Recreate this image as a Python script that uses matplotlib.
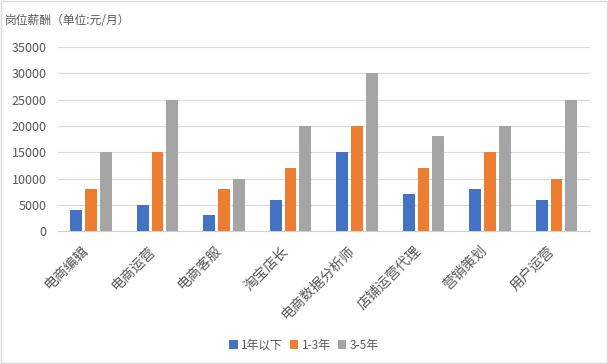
import numpy as np
import matplotlib.pyplot as plt
import matplotlib.transforms as mtransforms

plt.rcParams['font.family'] = ['Noto Sans CJK SC', 'DejaVu Sans']

categories = ["电商编辑", "电商运营", "电商客服", "淘宝店长", "电商数据分析师", "店铺运营代理", "营销策划", "用户运营"]
series_names = ["1年以下", "1-3年", "3-5年"]
under_1 = [4000, 5000, 3000, 6000, 15000, 7000, 8000, 6000]
y1_3 = [8000, 15000, 8000, 12000, 20000, 12000, 15000, 10000]
y3_5 = [15000, 25000, 10000, 20000, 30000, 18000, 20000, 25000]
colors = ["#4472C4", "#ED7D31", "#A5A5A5"]
text_color = "#595959"

fig = plt.figure(figsize=(6.08, 3.64), dpi=100)
ax = fig.add_axes([0.095, 0.365, 0.875, 0.506])

x = np.arange(len(categories))
w = 0.18
for i, (vals, name) in enumerate(zip([under_1, y1_3, y3_5], series_names)):
    ax.bar(x + (i - 1) * 0.225, vals, width=w, color=colors[i], label=name, zorder=3)

ax.set_xlim(-0.5, len(categories) - 0.5)
ax.set_ylim(0, 35000)
ax.set_yticks(range(0, 35001, 5000))
ax.grid(axis='y', color="#D9D9D9", linewidth=0.8, zorder=0)
for s in ["top", "right", "left"]:
    ax.spines[s].set_visible(False)
ax.spines["bottom"].set_color("#D0D0D0")
ax.tick_params(axis='both', length=0, colors=text_color, labelsize=9)
ax.tick_params(axis='y', pad=8)
ax.tick_params(axis='x', pad=9)
ax.set_xticks(x)
ax.set_xticklabels(categories, rotation=45, ha='right', rotation_mode='anchor', fontsize=10)
# nudge labels a bit left like the original
offset = mtransforms.ScaledTranslation(-7 / 72, 0, fig.dpi_scale_trans)
for lbl in ax.get_xticklabels():
    lbl.set_transform(lbl.get_transform() + offset)

fig.text(0.008, 0.945, "岗位薪酬（单位:元/月）", fontsize=8.5, color=text_color, ha='left', va='center')

fig.legend(loc='center', bbox_to_anchor=(0.5, 0.052), ncol=3, frameon=False, fontsize=8.5,
           handlelength=0.7, handleheight=0.7, handletextpad=0.3, columnspacing=0.6,
           labelcolor=text_color)

fig.patches.append(plt.Rectangle((0.002, 0.003), 0.996, 0.994, transform=fig.transFigure,
                                 fill=False, edgecolor="#D9D9D9", linewidth=1))

fig.savefig("out.png", dpi=100)
